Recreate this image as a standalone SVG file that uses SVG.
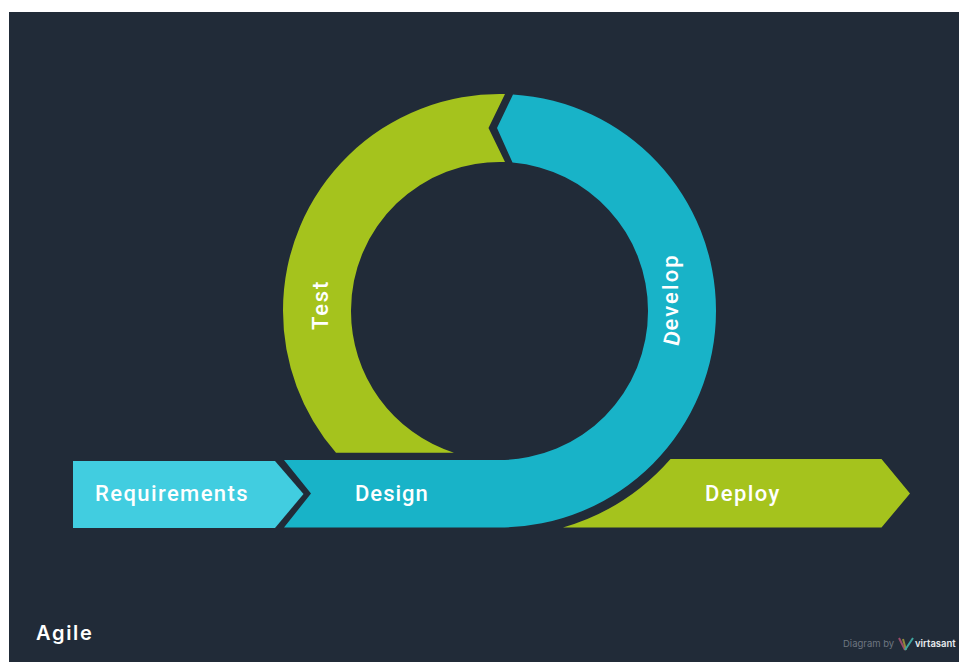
<svg xmlns="http://www.w3.org/2000/svg" width="959" height="662" viewBox="0 0 959 662">
<style>
.lbl{font-family:"Roboto","Liberation Sans",sans-serif;font-weight:500;font-size:22px;letter-spacing:1.4px;fill:#fff}
.g{fill:#a5c31d}.b{fill:#18b3c8}.l{fill:#41cde0}
</style>
<rect width="959" height="662" fill="#fff"/>
<rect x="9" y="12" width="950" height="650" fill="#212b38"/>
<g id="test">
<path class="g" d="M505 94.100A216.500 216.500 0 0 0 283 310.500A216.500 216.500 0 0 0 336 452.700H454A148.500 148.500 0 0 1 351 310.500A148.500 148.500 0 0 1 505 162.100L488.500 128Z"/>
<text class="lbl" style="letter-spacing:1.800px" transform="translate(328 330) rotate(-90)">Test</text>
</g>
<g id="design-develop">
<path class="b" d="M513 94.400A216.500 216.500 0 0 1 716 310.500A216.500 216.500 0 0 1 499.500 527.500H284L311 493.500L284 460H499.500A148.500 148.500 0 0 0 648 310.500A148.500 148.500 0 0 0 512.500 162.600L497 128Z"/>
<text class="lbl" style="letter-spacing:1px" x="355" y="501">Design</text>
<text class="lbl" style="letter-spacing:2.100px" rotate="14 0 0 0 0 0 0" transform="translate(678 347) rotate(-90)">Develop</text>
</g>
<g id="requirements">
<path class="l" d="M73 461H275L303.500 494L275 528H73Z"/>
<text class="lbl" x="95" y="501">Requirements</text>
</g>
<g id="deploy">
<path class="g" d="M670.500 459H881.500L910 493.500L881.500 527.500H563A227 227 0 0 0 670.500 459Z"/>
<text class="lbl" x="705" y="501">Deploy</text>
</g>
<g id="title"><text x="36" y="639.500" font-family="Inter,'Noto Sans',sans-serif" font-weight="600" font-size="20" letter-spacing="1.700" fill="#fff">Agile</text></g>
<g id="credit">
<text x="843" y="647" font-family="Inter,'Noto Sans',sans-serif" font-size="9.500" fill="#6d7680">Diagram by</text>
<path d="M899 638L905 650" fill="none" stroke="#9a4a6a" stroke-width="2"/>
<path d="M903 639L906 650" fill="none" stroke="#8f8a3a" stroke-width="2"/>
<path d="M905 650L913 638" fill="none" stroke="#3fa6a0" stroke-width="2"/>
<text x="915" y="647" font-family="Inter,'Noto Sans',sans-serif" font-weight="600" font-size="9.500" fill="#e8ecef">virtasant</text>
</g>
</svg>
